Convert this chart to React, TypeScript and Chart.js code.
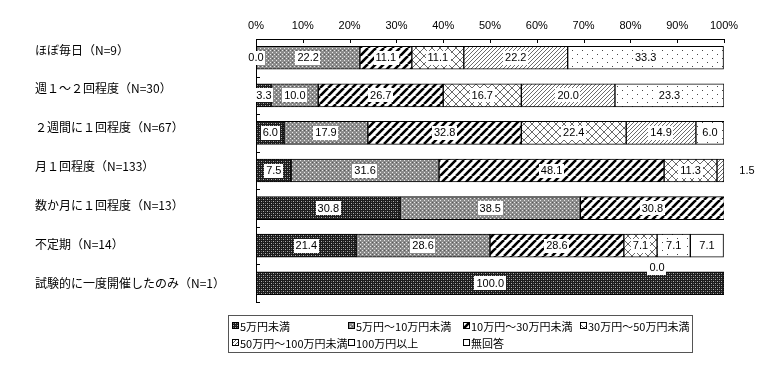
import React, { useEffect, useRef } from 'react';
import { Chart, registerables } from 'chart.js';

Chart.register(...registerables);

const categories = [
  'ほぼ毎日（N=9）',
  '週１～２回程度（N=30）',
  '２週間に１回程度（N=67）',
  '月１回程度（N=133）',
  '数か月に１回程度（N=13）',
  '不定期（N=14）',
  '試験的に一度開催したのみ（N=1）',
];

const seriesNames = [
  '5万円未満',
  '5万円～10万円未満',
  '10万円～30万円未満',
  '30万円～50万円未満',
  '50万円～100万円未満',
  '100万円以上',
  '無回答',
];

const under5: (number | null)[] = [0.0, 3.3, 6.0, 7.5, 30.8, 21.4, 100.0];
const from5to10: (number | null)[] = [22.2, 10.0, 17.9, 31.6, 38.5, 28.6, null];
const from10to30: (number | null)[] = [11.1, 26.7, 32.8, 48.1, 30.8, 28.6, null];
const from30to50: (number | null)[] = [11.1, 16.7, 22.4, 11.3, null, 7.1, null];
const from50to100: (number | null)[] = [22.2, 20.0, 14.9, 1.5, null, 0.0, null];
const over100: (number | null)[] = [33.3, 23.3, 6.0, null, null, 7.1, null];
const noAnswer: (number | null)[] = [null, null, null, null, null, 7.1, null];

const xTicks = [0, 10, 20, 30, 40, 50, 60, 70, 80, 90, 100];

const seriesValues = [under5, from5to10, from10to30, from30to50, from50to100, over100, noAnswer];

function makeTile(w: number, h: number, draw: (c: CanvasRenderingContext2D) => void) {
  const t = document.createElement('canvas');
  t.width = w;
  t.height = h;
  const c = t.getContext('2d')!;
  draw(c);
  return t;
}

function px(c: CanvasRenderingContext2D, x: number, y: number, col: string) {
  c.fillStyle = col;
  c.fillRect(x, y, 1, 1);
}

function diag(c: CanvasRenderingContext2D, s: number, col: string, lw: number, back = false) {
  c.strokeStyle = col;
  c.lineWidth = lw;
  for (const k of [-s, 0, s]) {
    c.beginPath();
    if (!back) {
      c.moveTo(k, s);
      c.lineTo(k + s, 0);
    } else {
      c.moveTo(k, 0);
      c.lineTo(k + s, s);
    }
    c.stroke();
  }
}

function buildPatterns(ctx: CanvasRenderingContext2D) {
  const tiles = [
    makeTile(4, 4, (c) => {
      c.fillStyle = '#1c1c1c';
      c.fillRect(0, 0, 4, 4);
      px(c, 1, 1, '#b0b0b0');
      px(c, 3, 3, '#b0b0b0');
      px(c, 1, 3, '#606060');
      px(c, 3, 1, '#606060');
    }),
    makeTile(4, 4, (c) => {
      c.fillStyle = '#8c8c8c';
      c.fillRect(0, 0, 4, 4);
      px(c, 0, 0, '#e8e8e8');
      px(c, 2, 2, '#e8e8e8');
      px(c, 0, 2, '#5a5a5a');
    }),
    makeTile(8, 8, (c) => {
      c.fillStyle = '#fff';
      c.fillRect(0, 0, 8, 8);
      diag(c, 8, '#000', 2.6);
    }),
    makeTile(8, 8, (c) => {
      c.fillStyle = '#fff';
      c.fillRect(0, 0, 8, 8);
      diag(c, 8, '#6a6a6a', 1);
      diag(c, 8, '#6a6a6a', 1, true);
    }),
    makeTile(4, 4, (c) => {
      c.fillStyle = '#fff';
      c.fillRect(0, 0, 4, 4);
      diag(c, 4, '#5a5a5a', 0.9);
    }),
    makeTile(10, 8, (c) => {
      c.fillStyle = '#fff';
      c.fillRect(0, 0, 10, 8);
      px(c, 2, 2, '#444');
      px(c, 7, 6, '#444');
    }),
    makeTile(4, 4, (c) => {
      c.fillStyle = '#fff';
      c.fillRect(0, 0, 4, 4);
    }),
  ];
  return tiles.map((t) => ctx.createPattern(t, 'repeat') as CanvasPattern);
}

let legendPatterns: CanvasPattern[] = [];

const overlayPlugin = {
  id: 'overlay',
  afterDatasetsDraw(chart: any) {
    const ctx: CanvasRenderingContext2D = chart.ctx;
    const ca = chart.chartArea;
    ctx.save();
    ctx.font = '11px "Liberation Sans", Arial, sans-serif';
    ctx.textAlign = 'center';
    ctx.textBaseline = 'middle';
    chart.data.datasets.forEach((ds: any, i: number) => {
      const meta = chart.getDatasetMeta(i);
      meta.data.forEach((el: any, j: number) => {
        const v = ds.data[j];
        if (v === null || v === undefined) return;
        const p = el.getProps(['x', 'base', 'y'], true);
        let cx = (p.x + p.base) / 2;
        let cy = p.y;
        let box = true;
        if (v === 0 && i === 0) {
          cx = p.base;
        } else if (v === 0) {
          cx = p.x;
          cy = p.y + 22;
        } else if (v < 2) {
          cx = ca.right + 23;
          box = false;
        }
        const text = v.toFixed(1);
        const w = ctx.measureText(text).width;
        if (box) {
          ctx.fillStyle = '#fff';
          ctx.fillRect(Math.round(cx - w / 2 - 2), Math.round(cy - 7), Math.round(w + 4), 14);
        }
        ctx.fillStyle = '#000';
        ctx.fillText(text, cx, cy + 0.5);
      });
    });
    ctx.restore();
  },
  afterDraw(chart: any) {
    const ctx: CanvasRenderingContext2D = chart.ctx;
    const ca = chart.chartArea;
    const xs = chart.scales.x;
    ctx.save();
    ctx.strokeStyle = '#000';
    ctx.lineWidth = 1;
    ctx.beginPath();
    for (const v of xTicks) {
      const x = Math.round(xs.getPixelForValue(v)) + 0.5;
      ctx.moveTo(x, ca.top);
      ctx.lineTo(x, ca.top + 4);
    }
    const n = categories.length;
    const step = (ca.bottom - ca.top) / n;
    for (let i = 0; i <= n; i++) {
      const y = Math.round(ca.top + i * step) + 0.5;
      ctx.moveTo(ca.left, y);
      ctx.lineTo(ca.left + 4, y);
    }
    ctx.stroke();

    ctx.font = '12px "Noto Sans CJK JP", sans-serif';
    ctx.fillStyle = '#000';
    ctx.textAlign = 'left';
    ctx.textBaseline = 'middle';
    const labTop = 50;
    const labStep = 233 / 6;
    categories.forEach((c, i) => {
      ctx.fillText(c, 35, labTop + i * labStep);
    });

    const lx = 228, ly = 315, lw = 464, lh = 37;
    ctx.strokeStyle = '#555';
    ctx.strokeRect(lx + 0.5, ly + 0.5, lw, lh);
    const cols = [232, 348, 463, 580];
    ctx.font = '11px "Noto Sans CJK JP", sans-serif';
    seriesNames.forEach((name, i) => {
      const r = Math.floor(i / 4);
      const c = i % 4;
      const x = cols[c];
      const y = ly + 11 + r * 17;
      const pat = legendPatterns[i];
      ctx.fillStyle = pat || '#fff';
      ctx.fillRect(x, y - 4, 7, 7);
      ctx.strokeStyle = '#000';
      ctx.strokeRect(x + 0.5, y - 3.5, 6, 6);
      ctx.fillStyle = '#000';
      ctx.fillText(name, x + 8, y + 0.5);
    });
    ctx.restore();
  },
};

export default function App() {
  const ref = useRef<HTMLCanvasElement | null>(null);
  useEffect(() => {
    document.body.style.margin = '0';
    const canvas = ref.current!;
    const ctx = canvas.getContext('2d')!;
    const patterns = buildPatterns(ctx);
    legendPatterns = patterns;
    const chart = new Chart(ctx, {
      type: 'bar',
      data: {
        labels: categories,
        datasets: seriesNames.map((name, i) => ({
          label: name,
          data: seriesValues[i] as any,
          backgroundColor: patterns[i] as any,
          borderColor: '#000',
          borderWidth: 1,
          borderSkipped: false,
          barThickness: 23,
        })),
      },
      options: {
        indexAxis: 'y',
        responsive: false,
        animation: false,
        events: [],
        layout: { padding: { left: 256, right: 59, top: 0, bottom: 68 } },
        plugins: { legend: { display: false }, tooltip: { enabled: false } },
        scales: {
          x: {
            position: 'top',
            stacked: true,
            min: 0,
            max: 100,
            afterFit: (s: any) => {
              s.height = 39;
            },
            afterBuildTicks: (s: any) => {
              s.ticks = xTicks.map((v) => ({ value: v }));
            },
            ticks: {
              callback: (v: any) => v + '%',
              color: '#000',
              font: { size: 11, family: '"Liberation Sans", Arial, sans-serif' },
              padding: 6,
              maxRotation: 0,
            },
            grid: { display: true, drawOnChartArea: false, drawTicks: false },
            border: { display: true, color: '#000', width: 1 },
          },
          y: {
            stacked: true,
            afterFit: (s: any) => {
              s.width = 0;
            },
            ticks: { display: false },
            grid: { display: true, drawOnChartArea: false, drawTicks: false },
            border: { display: true, color: '#000', width: 1 },
          },
        },
      },
      plugins: [overlayPlugin],
    });
    return () => chart.destroy();
  }, []);
  return (
    <div style={{ width: 783, height: 370, background: '#fff' }}>
      <canvas ref={ref} width={783} height={370} />
    </div>
  );
}
